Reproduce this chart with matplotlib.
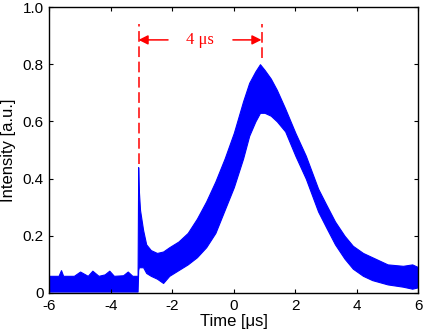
import matplotlib
matplotlib.use("Agg")
import matplotlib.pyplot as plt

# Time axis points (µs) and envelope of the noisy intensity trace
time_us = [-6.0, -5.7, -5.62, -5.55, -5.2, -5.0, -4.75, -4.6, -4.4, -4.2, -4.05, -3.9,
           -3.6, -3.45, -3.3, -3.13, -3.11, -3.09, -3.05, -2.95, -2.85, -2.7, -2.5,
           -2.3, -2.1, -1.8, -1.5, -1.2, -0.9, -0.6, -0.3, 0.0, 0.3, 0.5, 0.7, 0.85,
           1.0, 1.2, 1.4, 1.67, 2.0, 2.34, 2.74, 3.0, 3.29, 3.6, 3.87, 4.2, 4.5,
           5.0, 5.5, 5.8, 6.0]
upper_env = [0.06, 0.06, 0.08, 0.06, 0.06, 0.075, 0.06, 0.078, 0.06, 0.065, 0.078, 0.06,
             0.062, 0.075, 0.06, 0.06, 0.44, 0.36, 0.29, 0.22, 0.17, 0.15, 0.14,
             0.145, 0.16, 0.18, 0.21, 0.26, 0.32, 0.39, 0.47, 0.56, 0.67, 0.735, 0.775, 0.80,
             0.78, 0.75, 0.71, 0.645, 0.56, 0.48, 0.365, 0.31, 0.25, 0.20, 0.165, 0.14, 0.125,
             0.10, 0.095, 0.10, 0.09]
lower_env = [0.005, 0.005, 0.005, 0.005, 0.005, 0.005, 0.005, 0.005, 0.005, 0.005, 0.005, 0.005,
             0.005, 0.005, 0.005, 0.005, 0.08, 0.09, 0.09, 0.09, 0.07, 0.06, 0.05,
             0.035, 0.06, 0.08, 0.10, 0.125, 0.16, 0.21, 0.29, 0.37, 0.47, 0.55, 0.60, 0.63,
             0.63, 0.62, 0.60, 0.565, 0.48, 0.40, 0.285, 0.23, 0.17, 0.12, 0.085, 0.06, 0.045,
             0.03, 0.022, 0.015, 0.02]

x_ticks = [-6, -4, -2, 0, 2, 4, 6]
x_tick_labels = ["-6", "-4", "-2", "0", "2", "4", "6"]
y_ticks = [0, 0.2, 0.4, 0.6, 0.8, 1.0]
y_tick_labels = ["0", "0.2", "0.4", "0.6", "0.8", "1.0"]

marker_start = -3.1
marker_end = 0.9
arrow_level = 0.885

plt.rcParams['font.family'] = ['Liberation Sans', 'DejaVu Sans']

fig = plt.figure(figsize=(4.23, 3.34), dpi=100)
ax = fig.add_axes([0.1166, 0.1228, 0.8724, 0.8562])

ax.fill_between(time_us, lower_env, upper_env, color=(0, 0, 1), linewidth=0.8,
                edgecolor=(0, 0, 1))

ax.set_xlim(-6, 6)
ax.set_ylim(0, 1)
ax.set_xticks(x_ticks)
ax.set_xticklabels(x_tick_labels)
ax.set_yticks(y_ticks)
ax.set_yticklabels(y_tick_labels)
ax.tick_params(direction='in', top=True, right=True, length=3, width=0.8,
               labelsize=11, pad=4)
for s in ax.spines.values():
    s.set_linewidth(1.0)

ax.set_xlabel('Time [μs]', fontsize=12, labelpad=1)
ax.set_ylabel('Intensity [a.u.]', fontsize=12, labelpad=5)

red = (1, 0, 0)
ax.plot([marker_start, marker_start], [0.45, 0.94], color=red, lw=1.1, dashes=(7, 3))
ax.plot([marker_end, marker_end], [0.82, 0.94], color=red, lw=1.1, dashes=(7, 3))

ax.annotate('', xy=(marker_start, arrow_level), xytext=(-2.14, arrow_level),
            arrowprops=dict(arrowstyle='-|>', color=red, lw=1.1,
                            mutation_scale=14, shrinkA=0, shrinkB=0))
ax.annotate('', xy=(marker_end, arrow_level), xytext=(-0.03, arrow_level),
            arrowprops=dict(arrowstyle='-|>', color=red, lw=1.1,
                            mutation_scale=14, shrinkA=0, shrinkB=0))
ax.text((marker_start + marker_end) / 2, arrow_level, '4 μs', color=red,
        fontsize=12, family=['Liberation Serif', 'DejaVu Serif'],
        ha='center', va='center')

fig.savefig('out.png', dpi=100)
